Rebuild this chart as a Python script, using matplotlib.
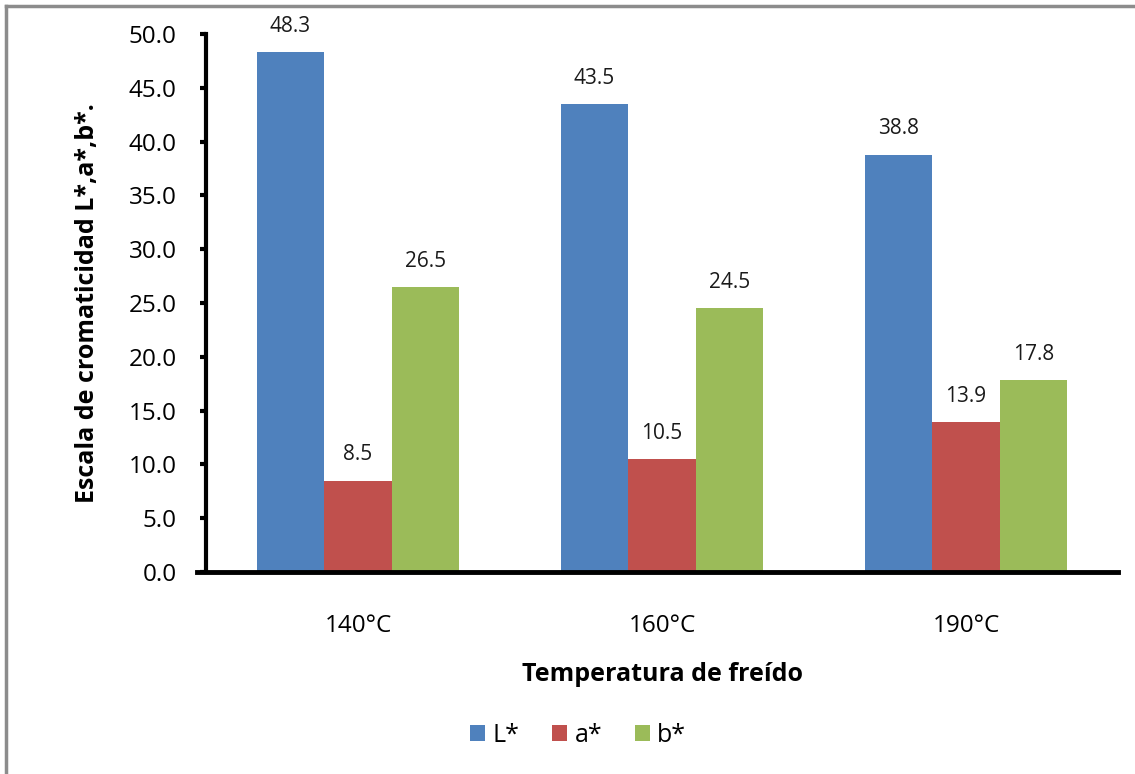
import matplotlib.pyplot as plt
import numpy as np
from matplotlib.lines import Line2D

plt.rcParams['font.family'] = ['Open Sans', 'DejaVu Sans']

# Data
temperaturas = ["140°C", "160°C", "190°C"]
series = ["L*", "a*", "b*"]
L_vals = [48.3, 43.5, 38.8]
a_vals = [8.5, 10.5, 13.9]
b_vals = [26.5, 24.5, 17.8]
colores = ["#4F81BD", "#C0504D", "#9BBB59"]

W, H = 1135, 774
fig = plt.figure(figsize=(W / 100, H / 100), dpi=100)
ax = fig.add_axes([206 / W, 1 - 572 / H, (1118 - 206) / W, (572 - 34) / H])

x = np.arange(len(temperaturas))
width = 0.222
for i, (vals, name, c) in enumerate(zip([L_vals, a_vals, b_vals], series, colores)):
    bars = ax.bar(x + (i - 1) * width, vals, width, color=c, label=name)
    for bar, v in zip(bars, vals):
        ax.annotate(f"{v:.1f}", (bar.get_x() + bar.get_width() / 2, v),
                    xytext=(0, 11), textcoords="offset points",
                    ha="center", va="bottom", fontsize=15, color="#1a1a1a")

ax.set_xlim(-0.5, 2.5)
ax.set_ylim(0, 50)
ax.set_yticks(np.arange(0, 50.1, 5))
ax.set_yticklabels([f"{t:.1f}" for t in np.arange(0, 50.1, 5)], fontsize=17.5)
ax.set_xticks(x)
ax.set_xticklabels(temperaturas, fontsize=17.5)
ax.tick_params(axis="x", length=0, pad=30)
ax.tick_params(axis="y", length=4, width=3, direction="out", pad=17)

for s in ["top", "right"]:
    ax.spines[s].set_visible(False)
ax.spines["left"].set_linewidth(3)
ax.spines["bottom"].set_linewidth(3.5)
ax.spines["bottom"].set_bounds(-0.53, 2.5)

ax.set_ylabel("Escala de cromaticidad L*,a*,b*.", fontsize=18, fontweight="bold")
ax.yaxis.set_label_coords(-0.116, 0.5)
ax.set_xlabel("Temperatura de freído", fontsize=18, fontweight="bold")
ax.xaxis.set_label_coords(0.5, -(662 - 572) / 538)

ax.legend(loc="center", bbox_to_anchor=(578 / W, 1 - 735 / H), bbox_transform=fig.transFigure,
          ncol=3, frameon=False, fontsize=18, handlelength=0.6, handleheight=0.6,
          handletextpad=0.3, columnspacing=1.3)

# outer chart border
fig.add_artist(Line2D([5.5 / W, 1], [1 - 5.5 / H, 1 - 5.5 / H], color="#8c8c8c", lw=2.5,
                      transform=fig.transFigure))
fig.add_artist(Line2D([5.5 / W, 5.5 / W], [0, 1 - 5.5 / H], color="#8c8c8c", lw=2.5,
                      transform=fig.transFigure))

fig.savefig("out.png", dpi=100)
